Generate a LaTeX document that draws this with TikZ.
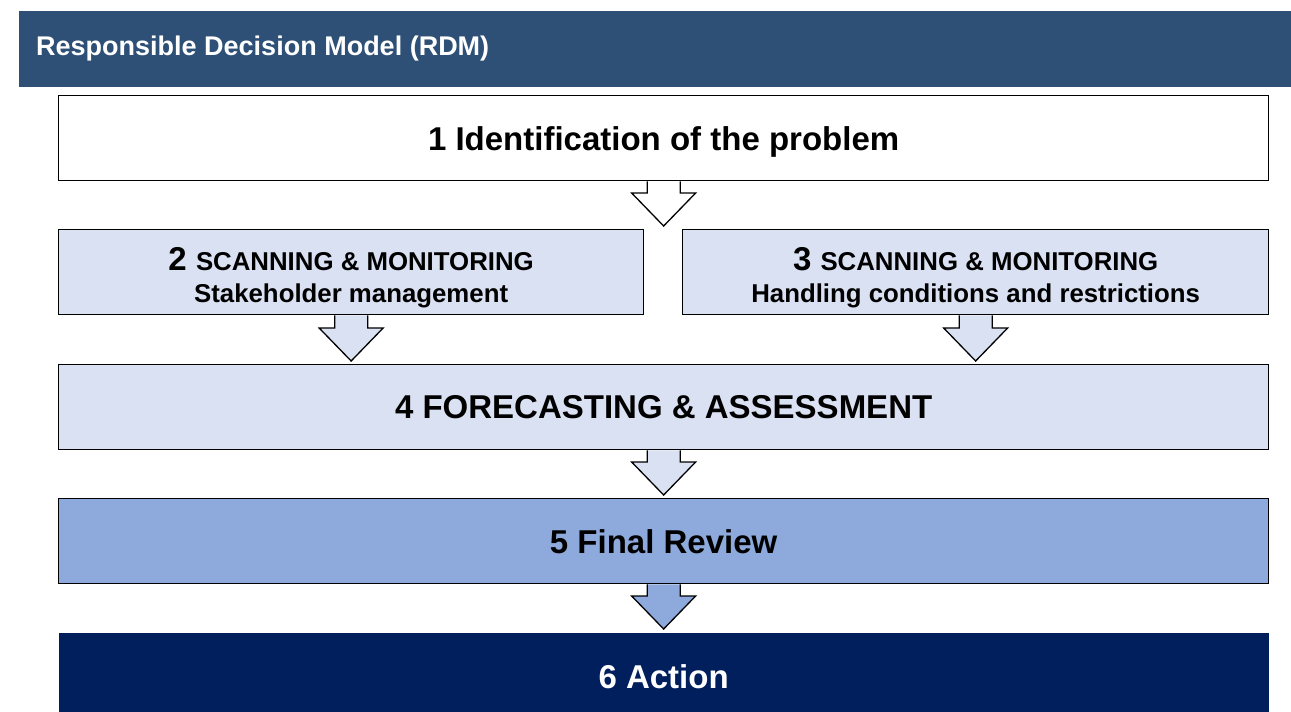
\documentclass[tikz,border=0pt]{standalone}
\usepackage{fontspec}
\setmainfont{Liberation Sans}
\usetikzlibrary{calc}
\definecolor{hdrblue}{HTML}{2E5077}
\definecolor{lightblue}{HTML}{DAE1F3}
\definecolor{midblue}{HTML}{8EA9DB}
\definecolor{navy}{HTML}{001F5C}
\newcommand\rdmsub{\fontsize{25.8}{32}\selectfont}
\tikzset{
  stagebox/.style={draw=black, line width=1.3pt, minimum height=85pt, anchor=north west, inner sep=0pt, align=center, text depth=0pt, font=\bfseries\fontsize{33}{38}\selectfont},
  twoline/.style={text height=60pt, text depth=0pt},
  flowarrow/.style={draw=black, line width=1.3pt, line join=miter},
}
% block arrow from source anchor #2 down to target anchor #3, fill #1
\newcommand\blockarrow[3]{%
  \path[flowarrow, fill=#1] let \p1=(#2), \p2=(#3) in
    (\x1-16.5pt,\y1) -- (\x1-16.5pt,\y2+36pt) -- (\x1-32pt,\y2+36pt) -- (\x1,\y2+3pt)
    -- (\x1+32pt,\y2+36pt) -- (\x1+16.5pt,\y2+36pt) -- (\x1+16.5pt,\y1);
}
\begin{document}
\begin{tikzpicture}[x=1pt,y=-1pt]
\useasboundingbox (0,0) rectangle (1291,712);
% header
\fill[hdrblue] (19,11) rectangle (1291,87);
\node[anchor=west, text=white, font=\bfseries\fontsize{27}{30}\selectfont, inner sep=0pt] (hdr) at (36,49) {Responsible Decision Model (RDM)};
% boxes
\node[stagebox, fill=white, minimum width=1210pt] (b1) at (58,95) {1 Identification of the problem};
\node[stagebox, twoline, fill=lightblue, minimum width=585pt] (b2) at (58,229) {2 {\rdmsub SCANNING \& MONITORING}\\[-6pt]{\rdmsub Stakeholder management}};
\node[stagebox, twoline, fill=lightblue, minimum width=586pt] (b3) at (682,229) {3 {\rdmsub SCANNING \& MONITORING}\\[-6pt]{\rdmsub Handling conditions and restrictions}};
\node[stagebox, fill=lightblue, minimum width=1210pt] (b4) at (58,364) {4 FORECASTING \& ASSESSMENT};
\node[stagebox, fill=midblue, minimum width=1210pt] (b5) at (58,498) {5 Final Review};
\node[stagebox, draw=none, fill=navy, text=white, minimum width=1210pt, minimum height=88pt] (b6) at (58,632) {6 Action};
% arrows
\blockarrow{white}{b1.south}{b1.south |- b2.north}
\blockarrow{lightblue}{b2.south}{b2.south |- b4.north}
\blockarrow{lightblue}{b3.south}{b3.south |- b4.north}
\blockarrow{lightblue}{b4.south}{b5.north}
\blockarrow{midblue}{b5.south}{b6.north}
\end{tikzpicture}
\end{document}
